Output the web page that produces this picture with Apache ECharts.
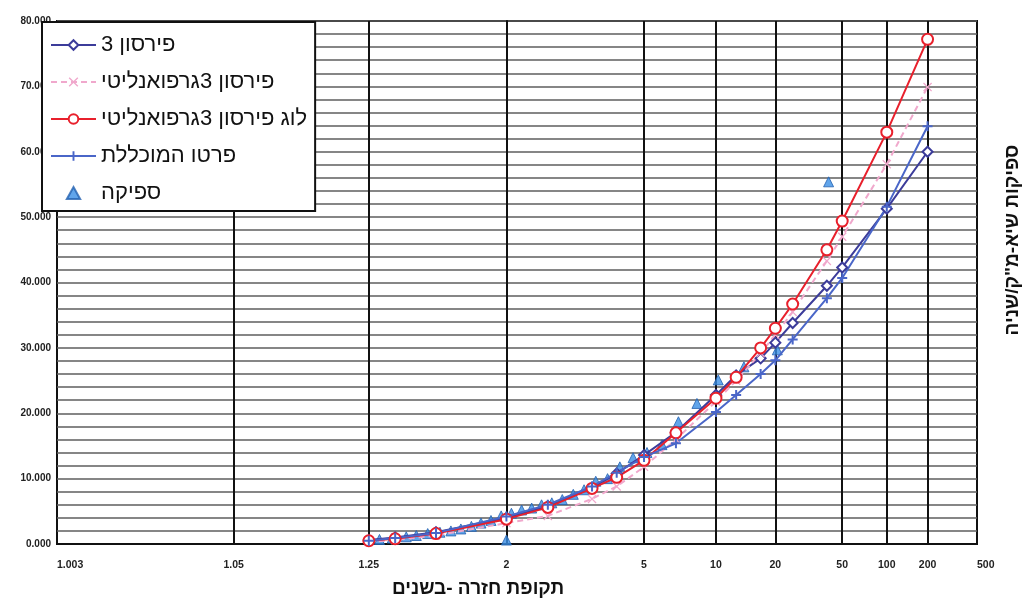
<!DOCTYPE html>
<html><head><meta charset="utf-8">
<script src="https://cdn.jsdelivr.net/npm/echarts@6/dist/echarts.min.js"></script>
<style>html,body{margin:0;padding:0;background:#fff}#c{width:1030px;height:605px}</style>
</head><body><div id="c"></div><script>
// ---- data ----
const seriesNames = ['פירסון 3', 'פירסון 3גרפואנליטי', 'לוג פירסון 3גרפואנליטי', 'פרטו המוכללת', 'ספיקה'];
const fitReturnPeriods = [1.25, 1.33, 1.5, 2, 2.5, 3.33, 4, 5, 6.67, 10, 12.5, 16.67, 20, 25, 40, 50, 100, 200];
const pearson3 =         [0.6, 1.0, 1.8, 4.0, 5.8, 8.6, 10.8, 13.6, 17.1, 22.8, 25.8, 28.4, 30.8, 33.8, 39.5, 42.3, 51.3, 60.0];
const pearson3Graph =    [0.3, 0.6, 1.3, 3.2, 4.3, 6.9, 8.8, 11.8, 16.0, 21.8, 25.0, 29.2, 32.0, 35.5, 43.3, 47.0, 58.1, 69.9];
const logPearson3Graph = [0.5, 0.8, 1.6, 3.8, 5.6, 8.5, 10.2, 12.8, 17.0, 22.3, 25.5, 30.0, 33.0, 36.7, 45.0, 49.4, 63.0, 77.2];
const genPareto =        [0.5, 0.9, 1.7, 4.2, 6.0, 8.8, 10.9, 13.3, 15.4, 20.2, 22.8, 26.0, 28.1, 31.3, 37.6, 40.7, 51.6, 63.9];
const obsReturnPeriods = [41, 20.5, 13.67, 10.25, 8.2, 6.83, 5.86, 5.13, 4.56, 4.1, 3.73, 3.42, 3.15, 2.93, 2.73, 2.56, 2.41, 2.28, 2.16, 2.05, 1.95, 1.86, 1.78, 1.71, 1.64, 1.58, 1.52, 1.46, 1.41, 1.37, 1.32, 1.28, 2.0];
const obsFlows =         [55.4, 29.7, 27.1, 25.1, 21.5, 18.7, 15.2, 14.0, 13.2, 11.8, 10.0, 9.6, 8.3, 7.6, 6.8, 6.3, 6.0, 5.5, 5.2, 4.7, 4.3, 3.6, 3.2, 2.7, 2.3, 2.0, 1.8, 1.6, 1.3, 1.1, 0.9, 0.7, 0.6];
const xTickLabels = ['1.003', '1.05', '1.25', '2', '5', '10', '20', '50', '100', '200', '500'];
const xGridLines = [1.05, 1.25, 2, 5, 10, 20, 50, 100, 200];
const yTicks = [0, 10, 20, 30, 40, 50, 60, 70, 80];
const xTitle = 'תקופת חזרה -בשנים';
const yTitle = 'ספיקות שיא-מ"ק/שניה';

// ---- normal probability scale ----
function normInv(p){
  const a=[-3.969683028665376e+01,2.209460984245205e+02,-2.759285104469687e+02,1.383577518672690e+02,-3.066479806614716e+01,2.506628277459239e+00];
  const b=[-5.447609879822406e+01,1.615858368580409e+02,-1.556989798598866e+02,6.680131188771972e+01,-1.328068155288572e+01];
  const c=[-7.784894002430293e-03,-3.223964580411365e-01,-2.400758277161838e+00,-2.549732539343734e+00,4.374664141464968e+00,2.938163982698783e+00];
  const d=[7.784695709041462e-03,3.224671290700398e-01,2.445134137142996e+00,3.754408661907416e+00];
  const pl=0.02425; let q,r;
  if(p<pl){q=Math.sqrt(-2*Math.log(p));return (((((c[0]*q+c[1])*q+c[2])*q+c[3])*q+c[4])*q+c[5])/((((d[0]*q+d[1])*q+d[2])*q+d[3])*q+1);}
  if(p<=1-pl){q=p-0.5;r=q*q;return (((((a[0]*r+a[1])*r+a[2])*r+a[3])*r+a[4])*r+a[5])*q/(((((b[0]*r+b[1])*r+b[2])*r+b[3])*r+b[4])*r+1);}
  q=Math.sqrt(-2*Math.log(1-p));return -(((((c[0]*q+c[1])*q+c[2])*q+c[3])*q+c[4])*q+c[5])/((((d[0]*q+d[1])*q+d[2])*q+d[3])*q+1);
}
const zOf = T => normInv(1 - 1 / T);
const labelZ = xTickLabels.map(t => zOf(parseFloat(t)));
const gridZ = xGridLines.map(zOf);
const fitPts = arr => fitReturnPeriods.map((T, i) => [zOf(T), arr[i]]);

const FONT = '"Liberation Sans", Arial, sans-serif';
const plusPath = 'path://M4,0H6V4H10V6H6V10H4V6H0V4H4Z';
const crossPath = 'path://M1,0L5,4L9,0L10,1L6,5L10,9L9,10L5,6L1,10L0,9L4,5L0,1Z';
const triPath = 'path://M5,0L10,9L0,9Z';

const chart = echarts.init(document.getElementById('c'), null, {renderer: 'canvas'});
chart.setOption({
  animation: false,
  backgroundColor: '#fff',
  grid: {left: 57, right: 53, top: 21, bottom: 61, show: true, borderColor: '#111', borderWidth: 2, backgroundColor: 'transparent'},
  xAxis: {
    type: 'value', min: labelZ[0], max: labelZ[labelZ.length - 1],
    axisLine: {show: true, lineStyle: {color: '#111', width: 2}},
    axisTick: {show: false, customValues: gridZ},
    splitLine: {show: true, lineStyle: {color: '#111', width: 2}},
    axisLabel: {
      customValues: labelZ, margin: 16, fontSize: 10.5, fontWeight: 'bold', color: '#222', fontFamily: FONT,
      alignMinLabel: 'left', alignMaxLabel: 'left',
      formatter: v => { let best = 0; labelZ.forEach((z, i) => { if (Math.abs(z - v) < Math.abs(labelZ[best] - v)) best = i; }); return xTickLabels[best]; }
    }
  },
  yAxis: {
    type: 'value', min: 0, max: 80, interval: 2,
    axisLine: {show: true, lineStyle: {color: '#111', width: 2}},
    axisTick: {show: false},
    splitLine: {show: true, lineStyle: {color: '#5e5e5e', width: 1.7}},
    axisLabel: {
      margin: 6, fontSize: 10, fontWeight: 'bold', color: '#222', fontFamily: FONT,
      formatter: v => yTicks.includes(v) ? v.toFixed(3) : ''
    }
  },
  legend: {
    orient: 'vertical', left: 42, top: 22, padding: [12, 8, 7, 8], itemGap: 15,
    itemWidth: 45, itemHeight: 12,
    backgroundColor: '#fff', borderColor: '#111', borderWidth: 2,
    textStyle: {fontSize: 22, color: '#111', fontFamily: FONT},
    data: seriesNames.map((n, i) => i === 4 ? {name: n, icon: triPath} : n)
  },
  graphic: [
    {type: 'text', x: 478, y: 589, style: {text: xTitle, font: 'bold 19px ' + FONT, fill: '#111', align: 'center', verticalAlign: 'middle'}},
    {type: 'text', x: 1013, y: 240, rotation: Math.PI / 2, style: {text: yTitle, font: 'bold 19px ' + FONT, fill: '#111', align: 'center', verticalAlign: 'middle'}}
  ],
  series: [
    {name: seriesNames[0], type: 'line', data: fitPts(pearson3), symbol: 'emptyDiamond', symbolSize: 10,
     lineStyle: {color: '#3c3c9a', width: 2}, itemStyle: {color: '#3c3c9a', borderWidth: 1.8}},
    {name: seriesNames[1], type: 'line', data: fitPts(pearson3Graph), symbol: crossPath, symbolSize: 9,
     lineStyle: {color: '#f0a8cc', width: 2, type: [6, 4]}, itemStyle: {color: '#f0a8cc'}},
    {name: seriesNames[2], type: 'line', data: fitPts(logPearson3Graph), symbol: 'emptyCircle', symbolSize: 11,
     lineStyle: {color: '#e8202c', width: 2}, itemStyle: {color: '#e8202c', borderWidth: 2}},
    {name: seriesNames[3], type: 'line', data: fitPts(genPareto), symbol: plusPath, symbolSize: 10,
     lineStyle: {color: '#4a66c8', width: 2}, itemStyle: {color: '#4a66c8'}},
    {name: seriesNames[4], type: 'scatter', data: obsReturnPeriods.map((T, i) => [zOf(T), obsFlows[i]]),
     symbol: 'triangle', symbolSize: 10, itemStyle: {color: '#3a8ee6', borderColor: '#2462b0', borderWidth: 1}}
  ]
});
</script></body></html>
